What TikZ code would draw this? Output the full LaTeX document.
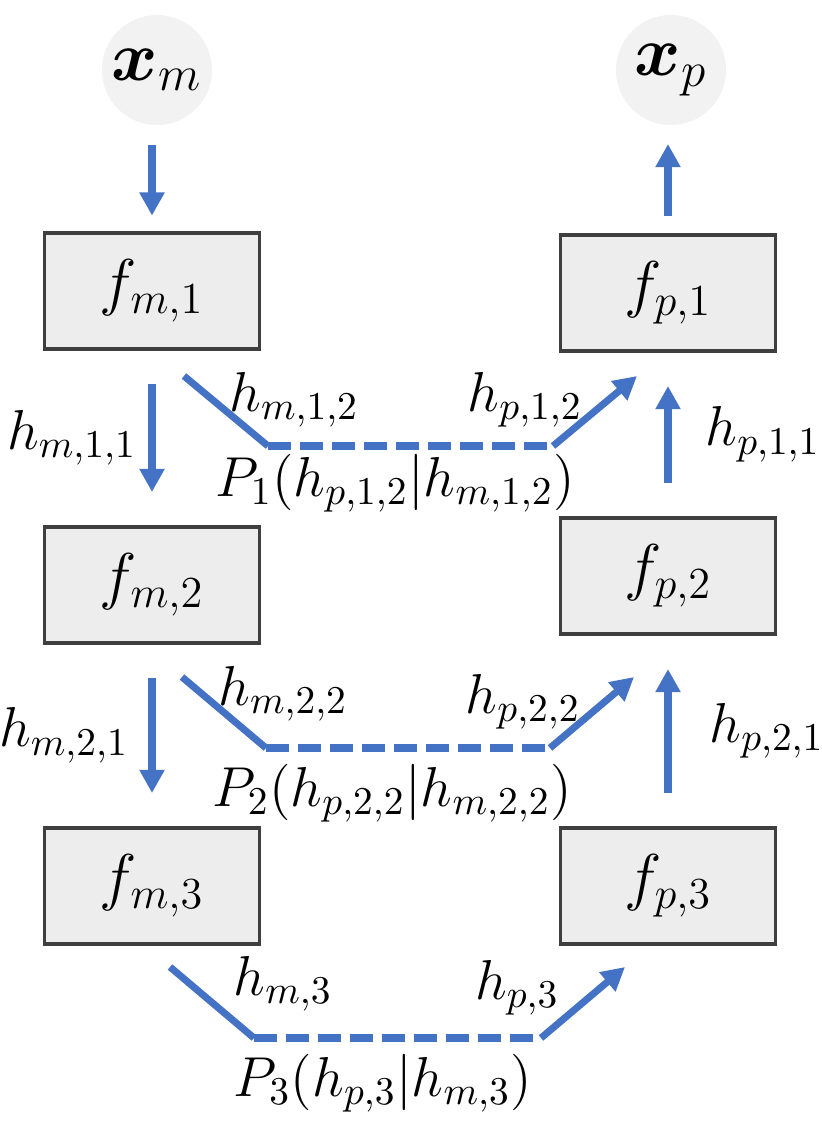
\documentclass[tikz,border=0pt]{standalone}
\usepackage{fix-cm}
\usepackage{amsmath,bm}
\usepackage{tikz}
\usetikzlibrary{arrows.meta,positioning}
\definecolor{arblue}{HTML}{4472C4}
\definecolor{boxfill}{HTML}{EDEDED}
\definecolor{boxline}{HTML}{3F3F3F}
\definecolor{varfill}{HTML}{F2F2F2}
\tikzset{
  fbox/.style  ={draw=boxline,fill=boxfill,line width=0.9pt,minimum width=2.15cm,minimum height=1.16cm,
                 inner sep=0pt,font=\fontsize{18}{21}\selectfont},
  var/.style   ={circle,fill=varfill,minimum size=1.1cm,inner sep=0pt,font=\fontsize{20}{24}\selectfont},
  ar/.style    ={-{Triangle[length=6.6pt,width=6.8pt]},line width=2pt,draw=arblue},
  vert/.style  ={ar,shorten <=9.5pt,shorten >=9.5pt},
  link/.style  ={line width=2pt,draw=arblue},
  dashlink/.style={link,dash pattern=on 6.5pt off 2.6pt},
  lbl/.style   ={font=\fontsize{16}{19}\selectfont,inner sep=0pt},
}

\begin{document}
\begin{tikzpicture}[x=0.01cm,y=-0.01cm]
  \useasboundingbox (0,0) rectangle (822,1142);
  % inputs and outputs
  \node[var] (xm) at (157,70) {$\bm{x}_m$};
  \node[var] (xp) at (671,70) {$\bm{x}_p$};
  % blocks
  \node[fbox] (fm1) at (152,291) {$f_{m,1}$};
  \node[fbox] (fm2) at (152,585) {$f_{m,2}$};
  \node[fbox] (fm3) at (152,886) {$f_{m,3}$};
  \node[fbox] (fp1) at (668,293) {$f_{p,1}$};
  \node[fbox] (fp2) at (668,576) {$f_{p,2}$};
  \node[fbox] (fp3) at (668,886) {$f_{p,3}$};
  % vertical flow
  \draw[ar,shorten <=5.4pt,shorten >=4.5pt] (xm.south -| fm1) -- (fm1);
  \draw[ar,shorten <=5pt,shorten >=5.2pt] (fp1) -- (xp.south -| fp1);
  \draw[vert] (fm1) -- node[lbl,left=0.12cm]{$h_{m,1,1}$} (fm2);
  \draw[vert] (fm2) -- node[lbl,left=0.2cm]{$h_{m,2,1}$} (fm3);
  \draw[vert] (fp2) -- node[lbl,right=0.34cm]{$h_{p,1,1}$} (fp1);
  \draw[vert] (fp3) -- node[lbl,right=0.38cm]{$h_{p,2,1}$} (fp2);
  % cross links
  \foreach \i/\ya/\yb/\xa/\xd in {1/376/446/184/637, 2/677/748/182/634, 3/967/1038/170/625}{
    \coordinate (a\i) at (\xa,\ya);
    \coordinate (b\i) at (\xa+84,\yb);
    \coordinate (c\i) at (\xd-84,\yb);
    \coordinate (d\i) at (\xd,\ya);
    \draw[link] (a\i) -- (b\i);
    \draw[dashlink] (b\i) -- (c\i);
    \draw[ar] (c\i) -- (d\i);
  }
  \node[lbl] (hm12) at (294,400) {$h_{m,1,2}$};
  \node[lbl] (hp12) at (525,400) {$h_{p,1,2}$};
  \node[lbl] (P1)   at (395,483) {$P_1(h_{p,1,2}|h_{m,1,2})$};
  \node[lbl] (hm22) at (283,694) {$h_{m,2,2}$};
  \node[lbl] (hp22) at (523,702) {$h_{p,2,2}$};
  \node[lbl] (P2)   at (392,793) {$P_2(h_{p,2,2}|h_{m,2,2})$};
  \node[lbl] (hm3)  at (283,984) {$h_{m,3}$};
  \node[lbl] (hp3)  at (517,988) {$h_{p,3}$};
  \node[lbl] (P3)   at (383,1083) {$P_3(h_{p,3}|h_{m,3})$};
\end{tikzpicture}
\end{document}
